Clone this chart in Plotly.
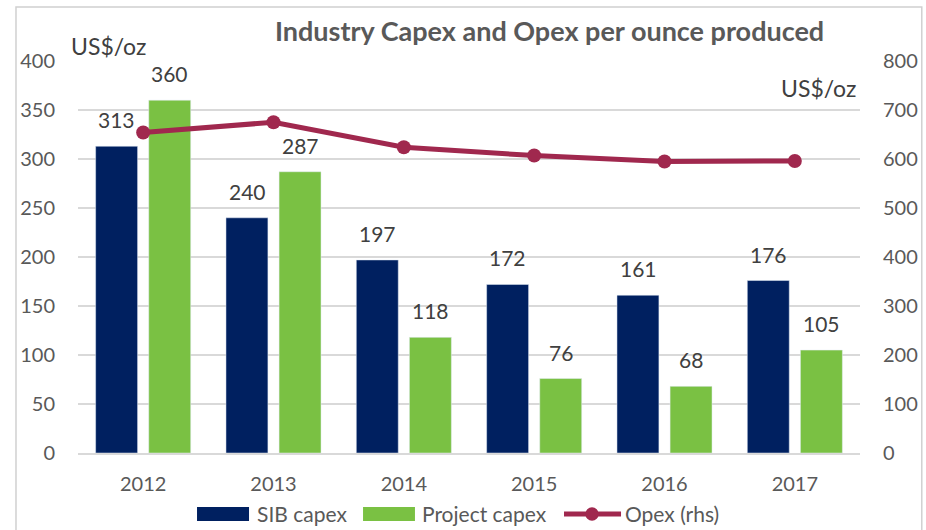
import plotly.graph_objects as go

years = ["2012", "2013", "2014", "2015", "2016", "2017"]
sib_capex = [313, 240, 197, 172, 161, 176]
project_capex = [360, 287, 118, 76, 68, 105]
opex = [654, 675, 624, 607, 595, 596]

navy = "#002060"
green = "#7AC143"
crimson = "#A0284E"
grey = "#595959"
font = "Lato, Noto Sans, sans-serif"

fig = go.Figure()
fig.add_trace(go.Bar(x=years, y=sib_capex, name="SIB capex", marker_color=navy))
fig.add_trace(go.Bar(x=years, y=project_capex, name="Project capex", marker_color=green))
fig.add_trace(go.Scatter(x=years, y=opex, name="Opex (rhs)", yaxis="y2",
                         mode="lines+markers",
                         line=dict(color=crimson, width=5),
                         marker=dict(color=crimson, size=14)))

# value labels over the bars (x by category index)
for i, v in enumerate(sib_capex):
    fig.add_annotation(x=i, y=v, text=str(v), showarrow=False, xshift=-26.5,
                       yanchor="bottom", yshift=12,
                       font=dict(size=21, color="#404040", family=font))
for i, v in enumerate(project_capex):
    fig.add_annotation(x=i, y=v, text=str(v), showarrow=False, xshift=26.5,
                       yanchor="bottom", yshift=12,
                       font=dict(size=21, color="#404040", family=font))

fig.add_annotation(text="<b>Industry Capex and Opex per ounce produced</b>",
                   xref="paper", yref="paper", x=0.603, y=1.079, yanchor="middle",
                   showarrow=False, font=dict(size=27, color=grey, family=font))
fig.add_annotation(text="US$/oz", xref="paper", yref="paper", x=-0.012, y=1.038,
                   xanchor="left", yanchor="middle", showarrow=False,
                   font=dict(size=23, color="#404040", family=font))
fig.add_annotation(text="US$/oz", xref="paper", yref="paper", x=0.998, y=0.93,
                   xanchor="right", yanchor="middle", showarrow=False,
                   font=dict(size=23, color="#404040", family=font))

# outer frame
fig.add_shape(type="rect", xref="paper", yref="paper",
              x0=-0.0793, x1=1.079, y0=-0.2, y1=1.138,
              line=dict(color="#d0d0d0", width=1.5))

# legend drawn by hand so the swatches are wide like in Excel
leg_y0, leg_y1, leg_mid = -0.1735, -0.1378, -0.1556
fig.add_shape(type="rect", xref="paper", yref="paper", x0=0.1522, x1=0.2187,
              y0=leg_y0, y1=leg_y1, fillcolor=navy, line_width=0)
fig.add_shape(type="rect", xref="paper", yref="paper", x0=0.3645, x1=0.4309,
              y0=leg_y0, y1=leg_y1, fillcolor=green, line_width=0)
fig.add_shape(type="line", xref="paper", yref="paper", x0=0.6215, x1=0.6944,
              y0=leg_mid, y1=leg_mid, line=dict(color=crimson, width=5))
fig.add_shape(type="circle", xref="paper", yref="paper", x0=0.6573 - 0.0085,
              x1=0.6573 + 0.0085, y0=leg_mid - 0.017, y1=leg_mid + 0.017,
              fillcolor=crimson, line_width=0)
for name, xpos in [("SIB capex", 0.2263), ("Project capex", 0.4373), ("Opex (rhs)", 0.6969)]:
    fig.add_annotation(text=name, xref="paper", yref="paper", x=xpos, y=leg_mid,
                       xanchor="left", yanchor="middle", showarrow=False,
                       font=dict(size=21, color=grey, family=font))

fig.update_layout(
    width=926, height=530,
    margin=dict(l=78, r=66, t=61, b=77, autoexpand=False),
    plot_bgcolor="white", paper_bgcolor="white",
    font=dict(family=font, size=20, color=grey),
    barmode="group", bargap=0.185, bargroupgap=0.21,
    showlegend=False,
    xaxis=dict(type="category", range=[-0.5, 5.5], showline=True,
               linecolor="#d9d9d9", linewidth=2,
               ticks="", ticklabelstandoff=12, tickfont=dict(size=20, color=grey)),
    yaxis=dict(range=[0, 400], dtick=50, showgrid=True, gridcolor="#d9d9d9",
               gridwidth=1.5, zeroline=False, ticks="", ticklabelstandoff=22,
               tickfont=dict(size=20, color=grey)),
    yaxis2=dict(range=[0, 800], dtick=100, overlaying="y", side="right",
                showgrid=False, zeroline=False, ticks="", ticklabelstandoff=22,
                tickfont=dict(size=20, color=grey)),
)

fig.write_html("out.html", config={"displayModeBar": False},
               post_script="document.body.style.margin='0';")
